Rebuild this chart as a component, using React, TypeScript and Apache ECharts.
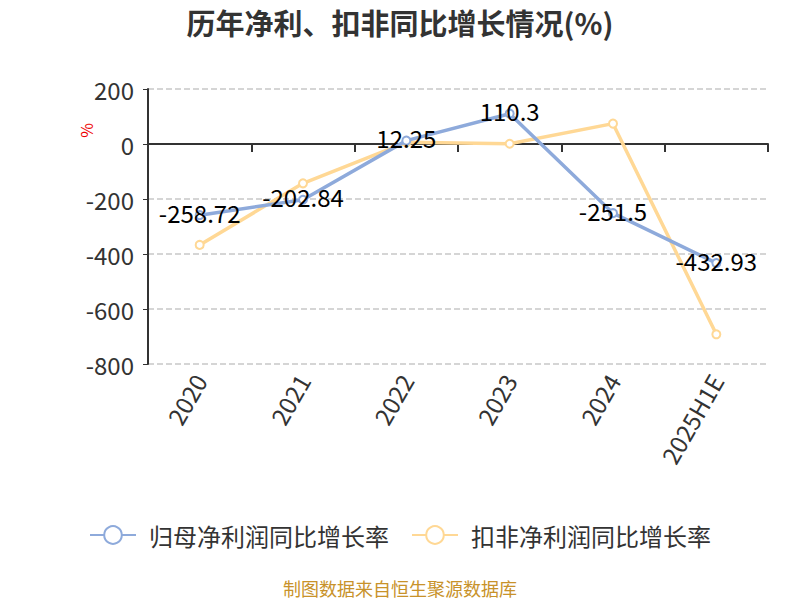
import React, { useEffect, useRef } from "react";
import * as echarts from "echarts";

const categories = ["2020", "2021", "2022", "2023", "2024", "2025H1E"];
const netProfitGrowth = [-258.72, -202.84, 12.25, 110.3, -251.5, -432.93];
const deductedGrowth = [-367, -143, 6, 1, 74, -692];
const seriesNames = ["归母净利润同比增长率", "扣非净利润同比增长率"];
const titleText = "历年净利、扣非同比增长情况(%)";
const footerText = "制图数据来自恒生聚源数据库";

const FONT = "'Noto Sans CJK SC', 'Noto Sans', sans-serif";

export default function App() {
  const ref = useRef<HTMLDivElement>(null);
  useEffect(() => {
    document.body.style.margin = "0";
    if (!ref.current) return;
    const chart = echarts.init(ref.current, undefined, { renderer: "svg" });
    chart.setOption({
      animation: false,
      backgroundColor: "#fff",
      textStyle: { fontFamily: FONT },
      title: {
        text: titleText,
        left: "center",
        top: 4,
        padding: 0,
        textStyle: { fontSize: 29, fontWeight: "bold", color: "#333", fontFamily: FONT, lineHeight: 36 },
      },
      grid: { left: 148, right: 32, top: 89, bottom: 236 },
      legend: {
        top: 518,
        left: "center",
        itemWidth: 46,
        itemHeight: 22,
        itemGap: 22,
        textStyle: { fontSize: 24, color: "#333", fontFamily: FONT, padding: [0, 0, 0, 8] },
        data: seriesNames,
      },
      xAxis: [
        {
          type: "category",
          data: categories,
          position: "bottom",
          axisLine: { show: false, onZero: false },
          axisTick: { show: false },
          axisLabel: { rotate: 60, fontSize: 24, color: "#333", margin: 12, fontFamily: FONT },
        },
        {
          type: "category",
          data: categories,
          position: "bottom",
          axisLine: { show: true, onZero: true, lineStyle: { color: "#333", width: 2 } },
          axisTick: { show: true, length: 8, lineStyle: { color: "#333", width: 2 } },
          axisLabel: { show: false },
        },
      ],
      yAxis: {
        type: "value",
        min: -800,
        max: 200,
        interval: 200,
        axisLine: { show: true, lineStyle: { color: "#333", width: 2 } },
        axisTick: { show: true, length: 5, lineStyle: { color: "#333" } },
        axisLabel: { fontSize: 24, color: "#333", margin: 14, fontFamily: FONT },
        splitLine: { show: true, lineStyle: { type: "dashed", color: "#c8c8c8", width: 1.5 } },
      },
      graphic: [
        {
          type: "text",
          left: 78,
          top: 123,
          rotation: Math.PI / 2,
          style: { text: "%", fill: "#e00", fontSize: 16, fontFamily: FONT },
        },
        {
          type: "text",
          left: "center",
          top: 579,
          style: { text: footerText, fill: "#c8922a", fontSize: 18, fontFamily: FONT },
        },
      ],
      series: [
        {
          name: seriesNames[0],
          type: "line",
          xAxisIndex: 0,
          data: netProfitGrowth,
          symbol: "emptyCircle",
          symbolSize: 8,
          lineStyle: { width: 3.5, color: "#8eaadb" },
          itemStyle: { color: "#8eaadb" },
          label: {
            show: true,
            position: "inside",
            offset: [0, -3],
            fontSize: 24,
            color: "#000",
            fontFamily: FONT,
          },
          z: 3,
        },
        {
          name: seriesNames[1],
          type: "line",
          xAxisIndex: 0,
          data: deductedGrowth,
          symbol: "emptyCircle",
          symbolSize: 8,
          lineStyle: { width: 3.5, color: "#ffd895" },
          itemStyle: { color: "#ffd895" },
          z: 2,
        },
      ],
    });
    return () => chart.dispose();
  }, []);
  return <div ref={ref} style={{ width: 800, height: 600 }} />;
}
